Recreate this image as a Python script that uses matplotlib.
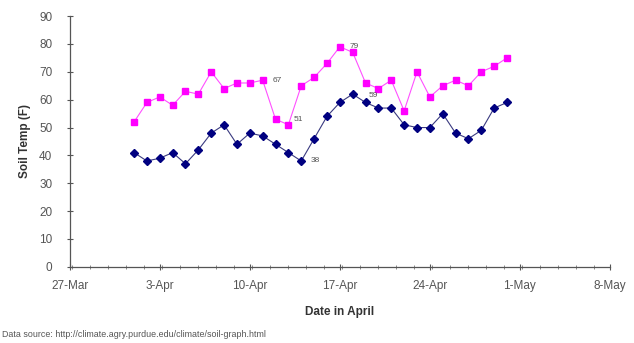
import datetime as dt

import matplotlib
matplotlib.use("Agg")
import matplotlib.pyplot as plt
from matplotlib.ticker import MultipleLocator

plt.rcParams["font.family"] = ["Liberation Sans", "DejaVu Sans"]

# soil temps, April 1..30
days = list(range(1, 31))
temp_low = [41, 38, 39, 41, 37, 42, 48, 51, 44, 48, 47, 44, 41, 38, 46,
            54, 59, 62, 59, 57, 57, 51, 50, 50, 55, 48, 46, 49, 57, 59]
temp_high = [52, 59, 61, 58, 63, 62, 70, 64, 66, 66, 67, 53, 51, 65, 68,
             73, 79, 77, 66, 64, 67, 56, 70, 61, 65, 67, 65, 70, 72, 75]

# april days that carry a data label, with text offset in points
labels_high = [(11, (7, 0)), (13, (4, 4)), (17, (7, 0))]
labels_low = [(14, (7, 0)), (19, (2, 5))]

tick_dates = ["27-Mar", "3-Apr", "10-Apr", "17-Apr", "24-Apr", "1-May", "8-May"]
y_ticks = list(range(0, 100, 10))

dates = [dt.date(2006, 4, d) for d in days]
start = dt.date(2006, 3, 27)
end = dt.date(2006, 5, 8)

fig = plt.figure(figsize=(6.34, 3.43), dpi=100)
ax = fig.add_axes([0.110, 0.222, 0.852, 0.731])

ax.plot(dates, temp_high, color="#ff50ff", lw=0.8, marker="s", ms=5,
        mfc="#ff00ff", mec="#ff00ff")
ax.plot(dates, temp_low, color="#3a3a80", lw=0.8, marker="D", ms=4,
        mfc="#000080", mec="#000080")

for d, off in labels_high:
    ax.annotate(str(temp_high[d - 1]), (dates[d - 1], temp_high[d - 1]),
                xytext=off, textcoords="offset points", fontsize=6,
                color="#555555", va="center", ha="left")
for d, off in labels_low:
    ax.annotate(str(temp_low[d - 1]), (dates[d - 1], temp_low[d - 1]),
                xytext=off, textcoords="offset points", fontsize=6,
                color="#555555", va="center", ha="left")

ax.set_xlim(start, end)
ax.set_ylim(0, 90)
ax.set_yticks(y_ticks)
ax.set_xticks([start + dt.timedelta(days=7 * i) for i in range(len(tick_dates))])
ax.set_xticklabels(tick_dates)
ax.xaxis.set_minor_locator(MultipleLocator(1.4))

for s in ["top", "right"]:
    ax.spines[s].set_visible(False)
for s in ["left", "bottom"]:
    ax.spines[s].set_color("#555555")
    ax.spines[s].set_linewidth(0.9)

ax.tick_params(axis="both", which="major", direction="inout", length=5,
               width=0.8, color="#555555", labelsize=8.5, labelcolor="#555555")
ax.tick_params(axis="x", which="minor", direction="inout", length=3,
               width=0.6, color="#777777")
ax.tick_params(axis="x", pad=7)
ax.tick_params(axis="y", pad=10)

ax.set_ylabel("Soil Temp (F)", fontsize=8.5, fontweight="bold", color="#333333",
              labelpad=6)
ax.set_xlabel("Date in April", fontsize=8.5, fontweight="bold", color="#333333",
              labelpad=10)

fig.text(0.003, 0.012, "Data source: http://climate.agry.purdue.edu/climate/soil-graph.html",
         fontsize=6.4, color="#555555", ha="left", va="bottom")

fig.savefig("out.png", dpi=100)
